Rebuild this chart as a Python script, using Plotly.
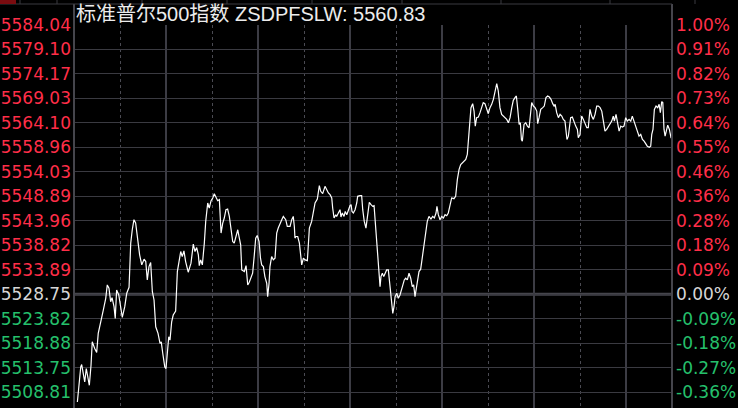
import plotly.graph_objects as go

# ---------------- data ----------------
prev_close = 5528.75
title_text = "标准普尔500指数 ZSDPFSLW: 5560.83"
left_labels = ["5584.04", "5579.10", "5574.17", "5569.03", "5564.10", "5558.96", "5554.03", "5548.89",
               "5543.96", "5538.82", "5533.89", "5528.75", "5523.82", "5518.88", "5513.75", "5508.81"]
right_labels = ["1.00%", "0.91%", "0.82%", "0.73%", "0.64%", "0.55%", "0.46%", "0.36%",
                "0.28%", "0.18%", "0.09%", "0.00%", "-0.09%", "-0.18%", "-0.27%", "-0.36%"]

# minutes after the 9:30 open
minutes = [
    2.2, 2.6, 3.3, 4.4, 5.0, 5.9, 7.0, 8.0, 9.1, 10.0, 11.1, 11.9, 13.5, 14.8, 15.8, 17.4, 19.1, 20.7, 21.7, 22.8,
    23.9, 24.8, 26.1, 26.9, 27.8, 29.2, 30.5, 31.5, 33.1, 34.4, 35.9, 37.0, 38.0, 39.1, 40.2, 41.3, 42.8, 44.2,
    45.7, 46.8, 47.8, 48.9, 50.0, 51.1, 52.2, 53.3, 54.8, 56.1, 56.9, 57.9, 59.2, 60.0, 60.9, 61.8, 62.6,
    63.7, 64.7, 66.3, 67.4, 68.5, 69.6, 70.6, 71.7, 72.8, 74.5, 76.3, 77.8, 78.9, 80.0, 81.1, 81.7, 82.6, 83.7,
    85.0, 85.9, 87.2, 88.2, 89.4, 90.5, 91.5, 92.6, 93.7, 94.8, 95.9, 97.0, 98.0, 99.1, 100.2, 101.3, 102.4,
    103.5, 104.5, 105.7, 106.8, 107.6, 108.7, 109.4, 111.1, 112.2, 113.3, 114.3, 115.4, 116.5, 117.6, 118.5,
    119.5, 120.7, 121.6,
    122.4, 123.5, 124.5, 125.7, 126.3, 127.2, 127.8, 128.9, 130.0, 131.1, 132.2, 133.2, 134.3, 135.5, 136.5,
    138.1, 139.1, 140.9, 142.0, 143.0, 143.7, 144.1, 144.8, 145.9, 147.0, 147.9, 148.5, 149.6, 150.7, 152.2,
    152.8, 153.5, 155.0, 156.1, 157.2, 158.7, 160.0, 160.9, 162.2, 163.7, 164.8, 165.9, 167.0, 168.1, 168.7,
    169.6, 170.7, 171.3, 172.4, 173.5, 174.1, 175.0, 176.1, 176.9, 177.9, 178.9, 180.0, 180.7, 181.3, 182.2,
    183.3, 184.4, 185.0, 186.5,
    187.6, 188.3, 189.3, 190.4, 191.6, 192.6, 193.7, 194.8, 195.7, 196.8, 197.6, 198.5, 199.6, 200.2, 201.1,
    202.0, 202.8, 203.9, 205.0, 206.1, 207.2, 207.9, 208.7, 209.4, 210.5, 211.5, 212.6, 213.7, 214.8, 215.4,
    216.3, 217.4, 218.5, 219.6, 220.6, 221.5, 222.4, 223.3, 224.2, 225.0, 226.1, 227.2, 228.3, 229.4, 230.4,
    231.5, 232.8, 233.9, 235.0, 236.1, 236.7, 237.6, 238.7, 239.8, 240.9, 242.0, 243.1, 244.1, 245.2, 246.3,
    247.8, 248.9,
    250.0, 251.1, 252.2, 253.3, 254.4, 255.5, 256.5, 257.2, 258.3, 258.9, 260.0, 260.9, 261.7, 262.6, 263.7,
    264.8, 265.9, 266.9, 268.0, 269.2, 270.2, 271.3, 272.4, 273.5, 274.6, 275.7, 276.7, 277.8, 278.9, 280.0,
    281.1, 282.2, 283.3, 284.4, 285.5, 286.5, 287.6, 288.5, 289.4, 290.3, 291.1, 291.8, 292.4, 293.5, 294.6,
    295.7, 296.8, 297.6, 298.5, 299.6, 300.7, 301.8, 302.4, 303.3, 304.4, 305.7, 306.7, 307.8, 308.9, 310.0,
    311.1, 312.2, 313.1,
    313.8, 314.8, 315.9, 317.0, 318.1, 319.1, 320.2, 320.9, 321.5, 322.4, 323.0, 323.9, 325.0, 326.1, 327.2,
    328.3, 328.9, 330.0, 331.1, 332.2, 333.3, 334.4, 335.4, 336.5, 337.6, 338.7, 339.8, 340.9, 342.0, 343.1,
    344.2, 345.2, 346.3, 347.4, 348.5, 349.6, 350.7, 351.7, 352.4, 353.5, 354.4, 355.5, 356.6, 357.6, 358.7,
    359.8, 360.9, 362.0, 363.1, 364.1, 365.2, 366.3, 367.4, 368.5, 369.6, 370.7, 371.8, 372.9, 373.9, 375.2,
    376.1, 376.8, 377.6, 378.5, 379.6, 380.7, 381.6, 382.4, 383.3, 384.0, 384.8, 385.5, 386.3, 387.2, 388.3,
    389.4,
]

prices = [
    5506.63, 5508.01, 5510.07, 5513.84, 5514.33, 5512.48, 5510.75, 5513.51, 5511.78, 5510.07, 5514.19, 5518.99,
    5517.63, 5516.80, 5520.72, 5522.78, 5525.52, 5527.93, 5530.67, 5529.99, 5527.23, 5528.05, 5526.20, 5523.81,
    5529.64, 5528.61, 5526.20, 5524.01, 5526.20, 5528.96, 5530.19, 5539.26, 5542.00, 5544.06, 5543.38, 5540.29,
    5536.85, 5534.79, 5535.96, 5535.47, 5531.70, 5534.44, 5535.26, 5529.29, 5527.58, 5522.08, 5520.72, 5518.66,
    5518.99, 5516.60, 5513.84, 5513.51, 5517.28, 5520.02, 5519.34,
    5523.11, 5524.49, 5525.31, 5533.41, 5535.82, 5537.53, 5536.50, 5537.67, 5535.47, 5533.28, 5535.14, 5539.05,
    5537.53, 5538.35, 5536.85, 5534.64, 5535.82, 5534.79, 5539.26, 5543.71, 5547.50, 5546.47, 5547.97, 5548.53,
    5549.41, 5548.65, 5547.97, 5548.18, 5541.32, 5543.38, 5544.41, 5546.12, 5546.26, 5544.74, 5542.35, 5539.59,
    5539.26, 5540.62, 5542.00, 5540.62, 5538.91, 5533.76, 5533.41, 5534.64, 5530.67, 5531.22, 5532.05, 5533.08,
    5536.85, 5540.29, 5540.82, 5539.59, 5536.23,
    5534.79, 5534.44, 5532.38, 5531.02, 5528.26, 5531.02, 5534.44, 5536.50, 5535.82, 5536.17, 5541.32, 5542.35,
    5543.03, 5544.06, 5544.74, 5544.06, 5542.68, 5542.68, 5544.06, 5544.74, 5542.68, 5540.29, 5540.62, 5540.62,
    5539.26, 5536.17, 5534.79, 5536.17, 5535.82, 5535.67, 5538.56, 5542.35, 5543.71, 5545.77, 5547.50, 5548.32,
    5551.06, 5549.89, 5549.41, 5550.92, 5550.09, 5549.56, 5549.21, 5548.53, 5546.47, 5544.41, 5545.09, 5544.74,
    5545.44, 5546.12, 5544.61, 5545.44, 5544.74, 5545.77, 5545.09, 5546.12, 5546.94, 5547.15, 5545.77, 5545.44,
    5546.12, 5547.50, 5548.86, 5549.00,
    5549.00, 5546.12, 5543.71, 5542.35, 5545.09, 5547.62, 5547.15, 5546.80, 5546.94, 5542.00, 5537.88, 5534.11,
    5530.32, 5532.38, 5533.08, 5532.38, 5533.08, 5533.76, 5533.76, 5530.32, 5527.23, 5524.84, 5526.20, 5528.26,
    5528.96, 5527.93, 5528.61, 5529.64, 5531.02, 5531.70, 5532.05, 5531.70, 5533.08, 5532.05, 5530.32, 5530.67,
    5528.26, 5529.99, 5532.38, 5533.41, 5533.90, 5536.50, 5539.26, 5542.00, 5543.71, 5544.74, 5544.20, 5544.74,
    5544.41, 5545.44, 5546.80, 5545.09, 5544.06, 5544.74, 5544.41, 5545.09, 5544.88, 5545.44, 5546.80, 5548.53,
    5548.38, 5548.86,
    5552.30, 5554.36, 5555.39, 5555.74, 5556.07, 5556.42, 5557.45, 5561.22, 5564.66, 5567.07, 5567.89, 5566.37,
    5563.28, 5565.01, 5565.13, 5566.04, 5567.40, 5568.10, 5567.89, 5566.72, 5565.83, 5567.07, 5567.75, 5568.78,
    5570.49, 5572.01, 5570.49, 5567.07, 5565.69, 5565.34, 5565.01, 5564.66, 5563.98, 5565.01, 5567.07, 5568.57,
    5569.13, 5569.46, 5566.72, 5563.63, 5563.98, 5560.54, 5560.19, 5563.63, 5563.98, 5563.28, 5562.95, 5565.34,
    5568.10, 5567.40, 5567.07, 5566.37, 5563.77, 5565.01, 5566.72, 5567.07, 5567.40, 5569.13, 5569.46, 5569.25,
    5568.78, 5567.89, 5567.40,
    5567.75, 5566.04, 5565.01, 5565.69, 5565.34, 5564.66, 5564.31, 5561.92, 5560.54, 5561.22, 5563.28, 5565.01,
    5565.13, 5563.98, 5563.28, 5562.60, 5560.89, 5561.57, 5565.34, 5564.66, 5563.63, 5562.95, 5562.95, 5566.72,
    5565.34, 5564.66, 5565.69, 5567.40, 5567.40, 5567.07, 5566.37, 5563.98, 5562.25, 5562.60, 5563.28, 5563.63,
    5564.31, 5565.34, 5564.31, 5565.69, 5563.98, 5562.25, 5563.28, 5563.07, 5563.28, 5565.01, 5564.31, 5564.66,
    5564.31, 5565.34, 5564.31, 5563.28, 5561.92, 5561.22, 5561.57, 5560.54, 5560.19, 5559.51, 5559.16, 5558.95,
    5559.16, 5561.57, 5562.60, 5566.72, 5567.40, 5567.07, 5567.75, 5566.04, 5568.30, 5568.10, 5562.60, 5561.22,
    5562.25, 5563.48, 5562.60, 5560.83,
]

n = min(len(minutes), len(prices))
minutes, prices = minutes[:n], prices[:n]

# ---------------- style ----------------
W, H = 738, 408
ML, MR, MT, MB = 74, 66, 25, 0
PW, PH = W - ML - MR, H - MT - MB
RED, GREEN, NEUTRAL = "#ff2e48", "#25c06c", "#d6d6d6"
FONT = "DejaVu Sans, Noto Sans CJK SC, sans-serif"
TITLE_FONT = "Liberation Sans, Noto Sans CJK SC, sans-serif"

steps = list(range(11, -5, -1))
step = (5584.04 - prev_close) / 11
tickvals = [prev_close + k * step for k in steps]
y_top = tickvals[0]
y_bot = prev_close - step * 4.645


def colored(labels):
    out = []
    for k, lab in zip(steps, labels):
        c = RED if k > 0 else (GREEN if k < 0 else NEUTRAL)
        out.append(f'<span style="color:{c}">{lab}</span>')
    return out


def px_x(px):
    return (px - ML) / PW


def px_y(py):
    return (H - MB - py) / PH


fig = go.Figure()
fig.add_trace(go.Scatter(x=minutes, y=prices, mode="lines",
                         line=dict(color="#ffffff", width=1.2), hoverinfo="skip", showlegend=False))
fig.add_trace(go.Scatter(x=minutes, y=prices, mode="lines", yaxis="y2",
                         line=dict(color="rgba(0,0,0,0)", width=0), hoverinfo="skip", showlegend=False))

fig.update_layout(
    template="none",
    width=W, height=H, autosize=False,
    margin=dict(l=ML, r=MR, t=MT, b=MB, pad=0, autoexpand=False),
    paper_bgcolor="#000000", plot_bgcolor="#000000",
    font=dict(family=FONT, size=17, color=NEUTRAL),
    showlegend=False,
    xaxis=dict(range=[0, 390], showticklabels=False, ticks="", zeroline=False, showline=False,
               automargin=False, tickmode="array",
               tickvals=[60, 120, 180, 240, 300, 360], showgrid=True, gridcolor="#3c3c44", gridwidth=2,
               minor=dict(tickmode="array", tickvals=[30, 90, 150, 210, 270, 330], showgrid=True,
                          gridcolor="#4a4a52", gridwidth=1, griddash="dot"),
               fixedrange=True),
    yaxis=dict(range=[y_bot, y_top], tickmode="array", tickvals=tickvals, ticktext=colored(left_labels),
               showgrid=True, gridcolor="#3a3a41", gridwidth=1, zeroline=False, ticks="", showline=False,
               automargin=False,
               ticklabelstandoff=2, tickfont=dict(family=FONT, size=17), fixedrange=True),
    yaxis2=dict(range=[y_bot, y_top], tickmode="array", tickvals=tickvals, ticktext=colored(right_labels),
                overlaying="y", side="right", showgrid=False, zeroline=False, ticks="", showline=False,
                automargin=False,
                ticklabelstandoff=3, tickfont=dict(family=FONT, size=17), fixedrange=True),
)

shapes = [
    # previous-close centre line
    dict(type="line", xref="paper", yref="y", x0=0, x1=1, y0=prev_close, y1=prev_close,
         line=dict(color="#45454c", width=3), layer="between"),
    # left & right borders
    dict(type="line", xref="paper", yref="paper", x0=0, x1=0, y0=0, y1=px_y(4),
         line=dict(color="#45454c", width=2)),
    dict(type="line", xref="paper", yref="paper", x0=1, x1=1, y0=0, y1=px_y(4),
         line=dict(color="#45454c", width=2)),
    # title box
    dict(type="line", xref="paper", yref="paper", x0=px_x(0), x1=1, y0=px_y(4), y1=px_y(4),
         line=dict(color="#3a3a41", width=1)),
    dict(type="rect", xref="paper", yref="paper", x0=px_x(0), x1=px_x(16), y0=px_y(4), y1=px_y(0),
         fillcolor="#7a0c10", line=dict(width=0)),
]
for sx in [20, 57, 142, 227, 312, 402, 501, 610, 695]:
    shapes.append(dict(type="line", xref="paper", yref="paper", x0=px_x(sx), x1=px_x(sx),
                       y0=px_y(4), y1=px_y(0), line=dict(color="#3a3a41", width=1)))
fig.update_layout(shapes=shapes)

fig.add_annotation(text=title_text, xref="paper", yref="paper", x=0, y=1, xanchor="left",
                   yanchor="middle", xshift=0, yshift=11, showarrow=False,
                   font=dict(family=TITLE_FONT, size=20, color="#ececec"))

fig.write_html("out.html", config={"displayModeBar": False, "staticPlot": True},
               post_script="document.body.style.margin='0';document.body.style.padding='0';")
